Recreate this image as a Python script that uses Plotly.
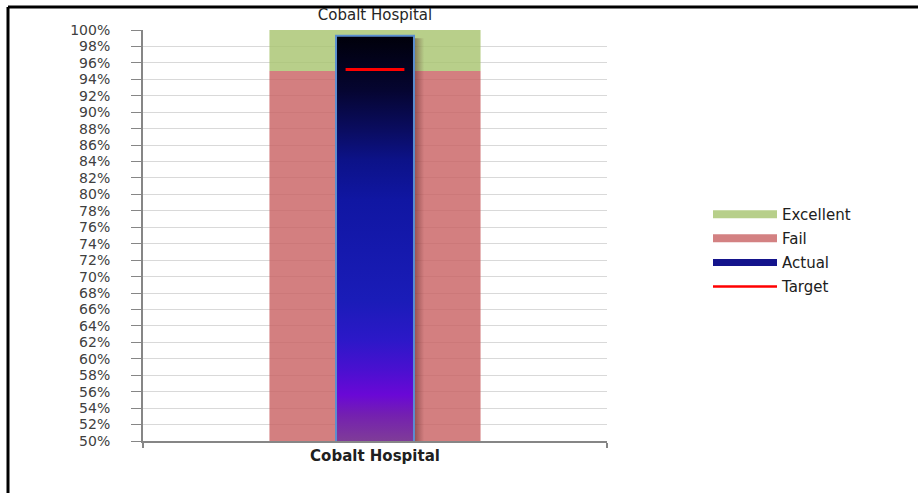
import plotly.graph_objects as go

# ---- data ----
categories = ["Cobalt Hospital"]
fail = [95]          # Fail band top (%)
excellent = [5]      # Excellent band, stacked on Fail (%)
actual = [99.3]      # Actual (%)
target = [95.2]      # Target (%)
y_min, y_max, y_step = 50, 100, 2
title_text = "Cobalt Hospital"

# ---- styling ----
FONT = "DejaVu Sans"
band_width = 0.455
actual_width = 0.168
shadow_width = 0.022
green = "rgba(168,196,112,0.82)"
pink = "rgba(200,95,96,0.80)"
gradient = [
    [0.0, "#7f3c98"], [0.064, "#7420b0"], [0.114, "#6a08d6"], [0.175, "#4a10d0"],
    [0.249, "#2c18c8"], [0.348, "#1a1cb8"], [0.595, "#1016a2"], [0.694, "#0c1288"],
    [0.768, "#0a0c60"], [0.867, "#050530"], [1.0, "#00000a"],
]

xs = list(range(len(categories)))
fig = go.Figure()

# Fail band and Excellent band (bars)
fig.add_trace(go.Bar(x=xs, y=fail, base=[0] * len(xs), width=band_width,
                     marker=dict(color=pink, line=dict(width=0)),
                     name="Fail", legendgroup="fail", showlegend=False))
fig.add_trace(go.Bar(x=xs, y=excellent, base=fail, width=band_width,
                     marker=dict(color=green, line=dict(width=0)),
                     name="Excellent", legendgroup="exc", showlegend=False))

# Actual bars drawn as filled shapes with a vertical gradient
for xi, a in zip(xs, actual):
    xl, xr = xi - actual_width / 2, xi + actual_width / 2
    # soft shadow on the right
    fig.add_trace(go.Scatter(
        x=[xr, xr + shadow_width, xr + shadow_width, xr, xr],
        y=[0, 0, a - 0.3, a - 0.3, 0], mode="lines", line=dict(width=0),
        fill="toself",
        fillgradient=dict(type="horizontal",
                          colorscale=[[0, "rgba(70,20,20,0.45)"], [1, "rgba(70,20,20,0)"]]),
        showlegend=False, hoverinfo="skip"))
    fig.add_trace(go.Scatter(
        x=[xl, xr, xr, xl, xl], y=[0, 0, a, a, 0], mode="lines",
        line=dict(color="#5b8ed0", width=2), fill="toself",
        fillgradient=dict(type="vertical", colorscale=gradient, start=y_min, stop=a),
        name="Actual", legendgroup="act", showlegend=False))

# Target marker
fig.add_trace(go.Scatter(x=xs, y=target, mode="markers",
                         marker=dict(symbol="line-ew", size=42,
                                     line=dict(color="#ff0000", width=3)),
                         name="Target", legendgroup="tgt", showlegend=False))

# Legend entries
legend_items = [("Excellent", "#b7cf8a", 8, "exc"), ("Fail", "#d38182", 8, "fail"),
                ("Actual", "#14148c", 7, "act"), ("Target", "#ff0000", 2.5, "tgt")]
for name, col, w, grp in legend_items:
    fig.add_trace(go.Scatter(x=[None], y=[None], mode="lines",
                             line=dict(color=col, width=w),
                             name=name, legendgroup=grp, showlegend=True))

# frame lines (chart-area border cropped in the reference)
px_l, px_r, px_t, px_b = 143, 607, 30, 441
def xp(px): return (px - px_l) / (px_r - px_l)
def yp(py): return (px_b - py) / (px_b - px_t)

shapes = [
    dict(type="line", xref="paper", yref="paper", x0=xp(8), x1=xp(920), y0=yp(7), y1=yp(7),
         line=dict(color="black", width=3)),
    dict(type="line", xref="paper", yref="paper", x0=xp(8), x1=xp(8), y0=yp(7), y1=yp(495),
         line=dict(color="black", width=3)),
]

fig.update_layout(
    width=918, height=493,
    margin=dict(l=px_l, r=918 - px_r, t=px_t, b=493 - px_b, pad=0),
    paper_bgcolor="white", plot_bgcolor="white",
    barmode="overlay",
    font=dict(family=FONT, size=14, color="#404040"),
    title=dict(text=title_text, x=xp(375), xanchor="center", xref="paper",
               y=1 - 15 / 493, yanchor="middle",
               font=dict(family=FONT, size=15, color="#262626")),
    showlegend=True,
    legend=dict(x=xp(708), xanchor="left", y=yp(198), yanchor="top",
                itemwidth=64,
                traceorder="grouped", tracegroupgap=1.6,
                font=dict(family=FONT, size=15, color="#202020"),
                bgcolor="rgba(0,0,0,0)", borderwidth=0),
    shapes=shapes,
)

fig.update_xaxes(
    range=[-0.5, len(xs) - 0.5], tickvals=xs, ticktext=categories,
    ticks="", showgrid=False, zeroline=False,
    showline=True, linecolor="#868686", linewidth=2,
    tickfont=dict(family=FONT, size=15, color="#202020", weight="bold"),
    minor=dict(tickvals=[x - 0.5 for x in xs] + [xs[-1] + 0.5], ticks="outside",
               ticklen=5, tickcolor="#868686", tickwidth=2, showgrid=False),
)
fig.update_yaxes(
    range=[y_min, y_max], dtick=y_step, tick0=y_min, ticksuffix="%",
    showgrid=True, gridcolor="#d9d9d9", gridwidth=1, zeroline=False,
    showline=True, linecolor="#868686", linewidth=2,
    ticks="outside", ticklen=10, tickcolor="#868686", tickwidth=1,
    ticklabelstandoff=18,
    tickfont=dict(family=FONT, size=14, color="#404040"),
)

fig.write_html("out.html")
